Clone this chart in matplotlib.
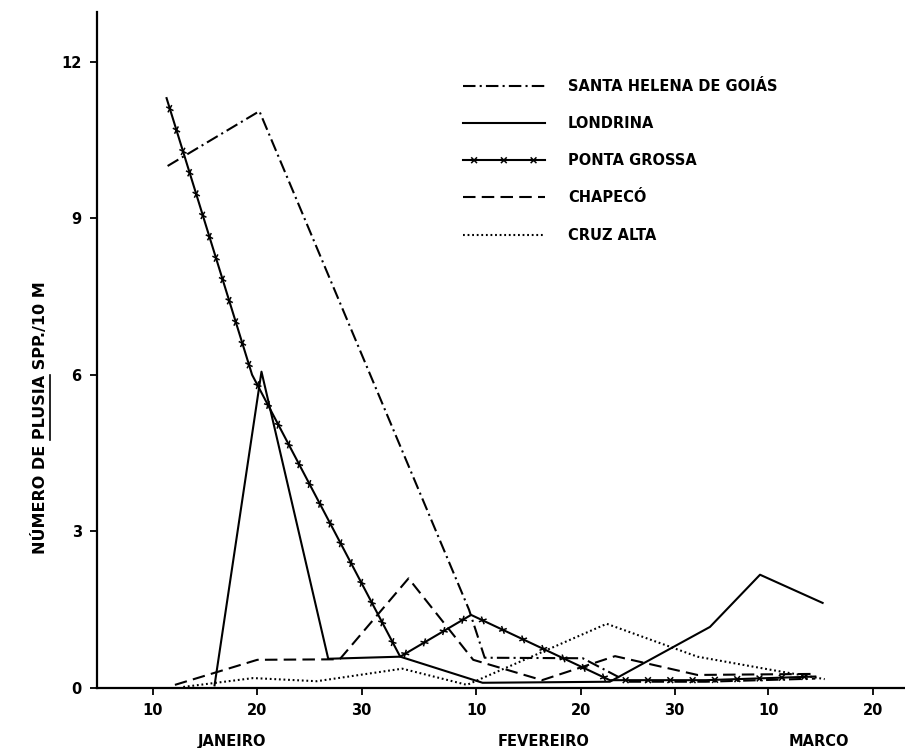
import matplotlib
matplotlib.use("Agg")
import matplotlib.pyplot as plt
import matplotlib.patheffects as pe
from matplotlib.lines import Line2D

plt.rcParams['font.family'] = ['DejaVu Sans']
plt.rcParams['lines.scale_dashes'] = False

# x values: day of year (Jan 1 = 1); y: number of Plusia spp. per 10 m
santa_helena_x = [11.4, 20.2, 40.3, 41.8, 51.2, 55.5, 63.0, 73.5]
santa_helena_y = [10.0, 11.05, 1.5, 0.58, 0.57, 0.12, 0.12, 0.18]

londrina_x = [15.9, 20.4, 26.8, 33.7, 41.6, 53.8, 63.4, 68.2, 74.2]
londrina_y = [0.05, 6.06, 0.56, 0.60, 0.10, 0.12, 1.17, 2.17, 1.63]

ponta_grossa_x = [11.3, 19.5, 33.7, 40.5, 53.8, 63.0, 73.5]
ponta_grossa_y = [11.3, 6.0, 0.60, 1.40, 0.15, 0.15, 0.22]

chapeco_x = [12.1, 20.0, 27.9, 34.5, 40.7, 47.3, 54.3, 62.2, 73.5]
chapeco_y = [0.06, 0.54, 0.55, 2.10, 0.54, 0.15, 0.61, 0.25, 0.27]

cruz_alta_x = [12.9, 19.6, 25.7, 33.9, 40.1, 53.5, 62.2, 69.2, 74.4]
cruz_alta_y = [0.02, 0.19, 0.13, 0.37, 0.06, 1.23, 0.60, 0.35, 0.17]

labels = ["SANTA HELENA DE GOIÁS", "LONDRINA", "PONTA GROSSA", "CHAPECÓ", "CRUZ ALTA"]

xtick_pos = [10, 20, 30, 41, 51, 60, 69, 79]
xtick_labels = ["10", "20", "30", "10", "20", "30", "10", "20"]
ytick_pos = [0, 3, 6, 9, 12]
months = ["JANEIRO", "FEVEREIRO", "MARCO"]
month_pos = [17.6, 47.4, 73.8]

W, H = 905, 748
fig = plt.figure(figsize=(W / 100, H / 100), dpi=100)
ax = fig.add_axes([97 / W, 60 / H, (W - 97) / W, (688 - 12) / H])

lw = 1.5
ax.plot(santa_helena_x, santa_helena_y, color='black', lw=lw,
        linestyle=(0, (9, 3, 1.5, 3)), label=labels[0])
ax.plot(londrina_x, londrina_y, color='black', lw=lw, linestyle='-', label=labels[1])
xfx = [pe.Normal()] + [pe.TickedStroke(spacing=16, angle=a, length=0.15, linewidth=1.1)
                       for a in (45, 135, -45, -135)]
ax.plot(ponta_grossa_x, ponta_grossa_y, color='black', lw=lw, linestyle='-',
        path_effects=xfx, label=labels[2])
ax.plot(chapeco_x, chapeco_y, color='black', lw=lw,
        linestyle=(0, (9, 4.5)), label=labels[3])
ax.plot(cruz_alta_x, cruz_alta_y, color='black', lw=lw,
        linestyle=(0, (1.3, 2.0)), label=labels[4])

ax.set_xlim(4.63, 82.1)
ax.set_ylim(0, 12.95)
for s in ('top', 'right'):
    ax.spines[s].set_visible(False)
ax.spines['left'].set_linewidth(1.6)
ax.spines['bottom'].set_linewidth(1.6)

ax.set_xticks(xtick_pos)
ax.set_xticklabels(xtick_labels, fontsize=10.5, fontweight='bold')
ax.set_yticks(ytick_pos)
ax.set_yticklabels([str(v) for v in ytick_pos], fontsize=10.5, fontweight='bold')
ax.tick_params(axis='both', direction='out', length=5, width=1.3, pad=6)

for m, p in zip(months, month_pos):
    ax.text(p, -0.068, m, transform=ax.get_xaxis_transform(), ha='center', va='top',
            fontsize=10.5, fontweight='bold')

leg = ax.legend(loc='upper left', bbox_to_anchor=(463 / W, 1 - 79 / H),
                bbox_transform=fig.transFigure, frameon=False,
                handlelength=5.6, handletextpad=1.6, labelspacing=1.52,
                prop={'size': 10.5, 'weight': 'bold'}, borderaxespad=0, borderpad=0)

# vertical y label with underlined PLUSIA
ylab = "NÚMERO DE PLUSIA SPP./10 M"
yfs = 11.5
ytxt = fig.text(40 / W, 1 - 418 / H, ylab, rotation=90, ha='center', va='center',
                fontsize=yfs, fontweight='bold')
renderer = fig.canvas.get_renderer()
full = ytxt.get_window_extent(renderer)
tmp1 = fig.text(0, 0, "NÚMERO DE ", fontsize=yfs, fontweight='bold')
tmp2 = fig.text(0, 0, "NÚMERO DE PLUSIA", fontsize=yfs, fontweight='bold')
tmp3 = fig.text(0, 0, ylab, fontsize=yfs, fontweight='bold')
w1 = tmp1.get_window_extent(renderer).width
w2 = tmp2.get_window_extent(renderer).width
w3 = tmp3.get_window_extent(renderer).width
for t in (tmp1, tmp2, tmp3):
    t.remove()
y0 = full.y0 + (full.height - w3) / 2
ux = full.x1 + 1.5
fig.add_artist(Line2D([ux / W, ux / W], [(y0 + w1) / H, (y0 + w2) / H],
                      transform=fig.transFigure, color='black', lw=1.2))

fig.savefig("out.png", dpi=100, facecolor='white')
